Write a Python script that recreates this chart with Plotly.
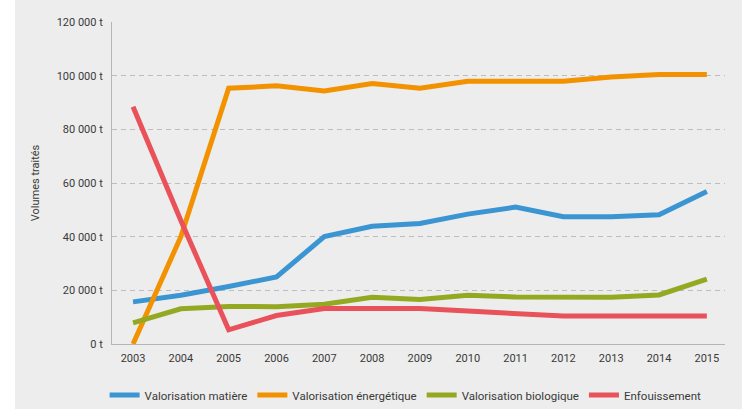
import plotly.graph_objects as go

years = [2003, 2004, 2005, 2006, 2007, 2008, 2009, 2010, 2011, 2012, 2013, 2014, 2015]
matiere = [15700, 18200, 21400, 25000, 40000, 43900, 44900, 48400, 51000, 47400, 47400, 48200, 56800]
energetique = [0, 40000, 95300, 96200, 94300, 97100, 95300, 97900, 97900, 97900, 99500, 100400, 100400]
biologique = [7900, 13100, 14000, 13900, 14800, 17400, 16600, 18200, 17500, 17400, 17400, 18300, 24200]
enfouissement = [88400, 46000, 5300, 10600, 13200, 13200, 13200, 12300, 11500, 10400, 10400, 10400, 10400]

series_names = ["Valorisation matière", "Valorisation énergétique", "Valorisation biologique", "Enfouissement"]
series_values = [matiere, energetique, biologique, enfouissement]
colors = ["#3a95d2", "#f39200", "#95a822", "#e9525a"]

ytick_vals = [0, 20000, 40000, 60000, 80000, 100000, 120000]
ytick_text = ["0 t", "20 000 t", "40 000 t", "60 000 t", "80 000 t", "100 000 t", "120 000 t"]

fig = go.Figure()
for name, vals, c in zip(series_names, series_values, colors):
    fig.add_trace(go.Scatter(x=years, y=vals, name=name, mode="lines",
                             line=dict(color=c, width=5)))

font_family = "Roboto, 'DejaVu Sans', sans-serif"
fig.update_layout(
    width=742, height=409,
    margin=dict(l=112, r=17, t=22, b=65),
    paper_bgcolor="#ededed",
    plot_bgcolor="#ededed",
    font=dict(family=font_family, size=11, color="#3a3a3a"),
    showlegend=True,
    legend=dict(orientation="h", xref="container", x=104.6 / 742, xanchor="left",
                yref="container", y=1 - 395 / 409, yanchor="middle",
                font=dict(size=11.5, color="#3a3a3a"), bgcolor="rgba(0,0,0,0)",
                itemwidth=30, tracegroupgap=0),
    xaxis=dict(range=[2002.56, 2015.38], tickvals=years, ticktext=[str(y) for y in years],
               showgrid=False, zeroline=False, showline=True, linecolor="#b5b5b5", linewidth=1,
               ticks="", ticklabelstandoff=4, tickfont=dict(size=11, color="#3a3a3a")),
    yaxis=dict(range=[0, 120000], tickvals=ytick_vals, ticktext=ytick_text,
               showgrid=True, gridcolor="#bdbdbd", griddash="5px,4px", gridwidth=1,
               zeroline=False, showline=True, linecolor="#b5b5b5", linewidth=1,
               ticks="", ticklabelstandoff=6, tickfont=dict(size=11, color="#3a3a3a"),
               title=dict(text="Volumes traités", standoff=14, font=dict(size=11, color="#3a3a3a"))),
)
fig.add_shape(type="rect", xref="paper", yref="paper", x0=-112/613, x1=-97/613, y0=-1, y1=2,
              fillcolor="white", line=dict(width=0), layer="below")

fig.write_html("out.html", config={"displayModeBar": False},
               post_script="document.body.style.margin='0';document.body.style.padding='0';")
